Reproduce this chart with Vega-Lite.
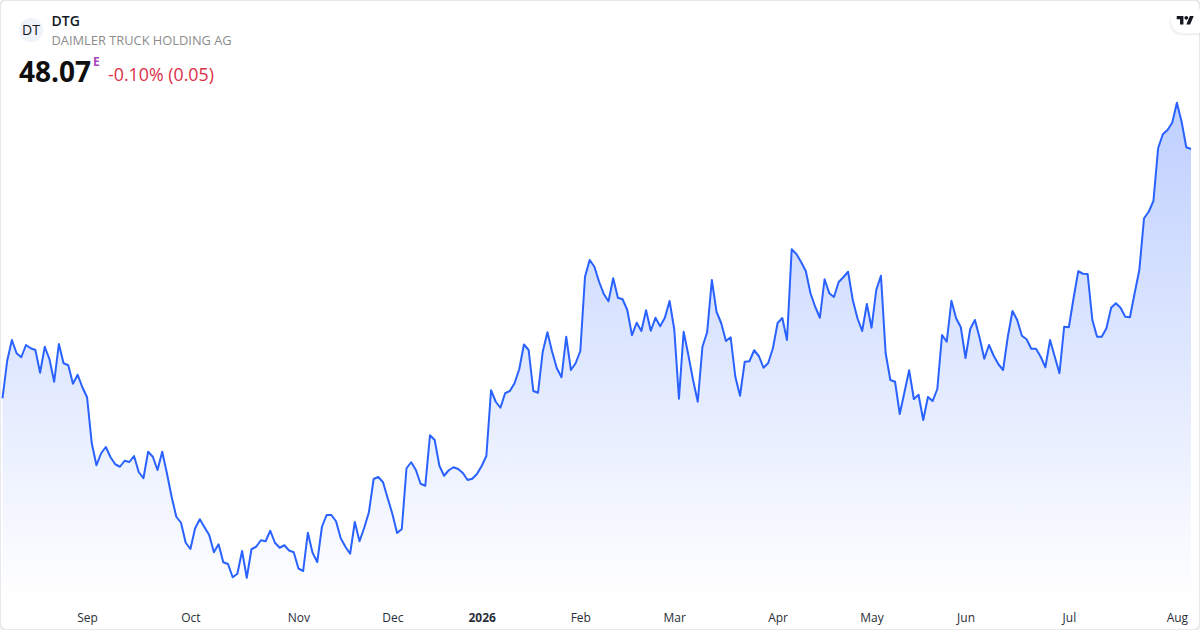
{"$schema":"https://vega.github.io/schema/vega-lite/v6.json","width":1200,"height":630,"padding":0,"autosize":"none","background":"#ffffff","view":{"stroke":"#e6e8ec","strokeWidth":2,"cornerRadius":6,"fill":"#ffffff"},"config":{"font":"Open Sans"},
"data":{"values":[{"session":0,"close":38.10},{"session":1,"close":39.60},{"session":2,"close":40.43},{"session":3,"close":39.90},{"session":4,"close":39.74},{"session":5,"close":40.23},{"session":6,"close":40.10},{"session":7,"close":40.03},{"session":8,"close":39.12},{"session":9,"close":40.16},{"session":10,"close":39.66},{"session":11,"close":38.76},{"session":12,"close":40.27},{"session":13,"close":39.50},{"session":14,"close":39.42},{"session":15,"close":38.68},{"session":16,"close":39.04},{"session":17,"close":38.54},{"session":18,"close":38.14},{"session":19,"close":36.30},{"session":20,"close":35.42},{"session":21,"close":35.90},{"session":22,"close":36.15},{"session":23,"close":35.74},{"session":24,"close":35.46},{"session":25,"close":35.36},{"session":26,"close":35.60},{"session":27,"close":35.55},{"session":28,"close":35.79},{"session":29,"close":35.15},{"session":30,"close":34.90},{"session":31,"close":35.96},{"session":32,"close":35.76},{"session":33,"close":35.23},{"session":34,"close":35.96},{"session":35,"close":35.10},{"session":36,"close":34.16},{"session":37,"close":33.36},{"session":38,"close":33.12},{"session":39,"close":32.32},{"session":40,"close":32.07},{"session":41,"close":32.90},{"session":42,"close":33.26},{"session":43,"close":32.94},{"session":44,"close":32.63},{"session":45,"close":31.94},{"session":46,"close":32.26},{"session":47,"close":31.54},{"session":48,"close":31.47},{"session":49,"close":30.94},{"session":50,"close":31.08},{"session":51,"close":31.99},{"session":52,"close":30.92},{"session":53,"close":32.06},{"session":54,"close":32.16},{"session":55,"close":32.42},{"session":56,"close":32.38},{"session":57,"close":32.80},{"session":58,"close":32.32},{"session":59,"close":32.12},{"session":60,"close":32.22},{"session":61,"close":32.01},{"session":62,"close":31.94},{"session":63,"close":31.29},{"session":64,"close":31.19},{"session":65,"close":32.72},{"session":66,"close":31.92},{"session":67,"close":31.55},{"session":68,"close":32.96},{"session":69,"close":33.43},{"session":70,"close":33.43},{"session":71,"close":33.18},{"session":72,"close":32.50},{"session":73,"close":32.16},{"session":74,"close":31.88},{"session":75,"close":33.15},{"session":76,"close":32.38},{"session":77,"close":32.92},{"session":78,"close":33.54},{"session":79,"close":34.87},{"session":80,"close":34.95},{"session":81,"close":34.74},{"session":82,"close":34.10},{"session":83,"close":33.47},{"session":84,"close":32.71},{"session":85,"close":32.87},{"session":86,"close":35.30},{"session":87,"close":35.54},{"session":88,"close":35.23},{"session":89,"close":34.68},{"session":90,"close":34.60},{"session":91,"close":36.62},{"session":92,"close":36.43},{"session":93,"close":35.40},{"session":94,"close":35.00},{"session":95,"close":35.22},{"session":96,"close":35.34},{"session":97,"close":35.27},{"session":98,"close":35.11},{"session":99,"close":34.83},{"session":100,"close":34.88},{"session":101,"close":35.07},{"session":102,"close":35.39},{"session":103,"close":35.79},{"session":104,"close":38.42},{"session":105,"close":37.96},{"session":106,"close":37.72},{"session":107,"close":38.30},{"session":108,"close":38.39},{"session":109,"close":38.70},{"session":110,"close":39.26},{"session":111,"close":40.25},{"session":112,"close":40.03},{"session":113,"close":38.39},{"session":114,"close":38.32},{"session":115,"close":39.96},{"session":116,"close":40.74},{"session":117,"close":39.96},{"session":118,"close":39.30},{"session":119,"close":38.94},{"session":120,"close":40.56},{"session":121,"close":39.23},{"session":122,"close":39.50},{"session":123,"close":39.99},{"session":124,"close":42.96},{"session":125,"close":43.63},{"session":126,"close":43.36},{"session":127,"close":42.76},{"session":128,"close":42.27},{"session":129,"close":41.98},{"session":130,"close":42.90},{"session":131,"close":42.12},{"session":132,"close":42.06},{"session":133,"close":41.63},{"session":134,"close":40.62},{"session":135,"close":41.12},{"session":136,"close":40.79},{"session":137,"close":41.62},{"session":138,"close":40.80},{"session":139,"close":41.32},{"session":140,"close":40.98},{"session":141,"close":41.32},{"session":142,"close":41.99},{"session":143,"close":40.86},{"session":144,"close":38.08},{"session":145,"close":40.76},{"session":146,"close":39.83},{"session":147,"close":38.83},{"session":148,"close":37.96},{"session":149,"close":40.16},{"session":150,"close":40.74},{"session":151,"close":42.83},{"session":152,"close":41.56},{"session":153,"close":41.10},{"session":154,"close":40.39},{"session":155,"close":40.54},{"session":156,"close":38.96},{"session":157,"close":38.20},{"session":158,"close":39.56},{"session":159,"close":39.58},{"session":160,"close":40.02},{"session":161,"close":39.79},{"session":162,"close":39.32},{"session":163,"close":39.51},{"session":164,"close":40.10},{"session":165,"close":41.11},{"session":166,"close":41.31},{"session":167,"close":40.43},{"session":168,"close":44.06},{"session":169,"close":43.87},{"session":170,"close":43.55},{"session":171,"close":43.19},{"session":172,"close":42.30},{"session":173,"close":41.76},{"session":174,"close":41.32},{"session":175,"close":42.86},{"session":176,"close":42.30},{"session":177,"close":42.15},{"session":178,"close":42.75},{"session":179,"close":42.94},{"session":180,"close":43.16},{"session":181,"close":42.03},{"session":182,"close":41.30},{"session":183,"close":40.79},{"session":184,"close":41.87},{"session":185,"close":40.92},{"session":186,"close":42.43},{"session":187,"close":43.00},{"session":188,"close":39.90},{"session":189,"close":38.83},{"session":190,"close":38.76},{"session":191,"close":37.47},{"session":192,"close":38.34},{"session":193,"close":39.22},{"session":194,"close":38.07},{"session":195,"close":38.24},{"session":196,"close":37.23},{"session":197,"close":38.15},{"session":198,"close":37.99},{"session":199,"close":38.47},{"session":200,"close":40.63},{"session":201,"close":40.36},{"session":202,"close":42.00},{"session":203,"close":41.30},{"session":204,"close":40.94},{"session":205,"close":39.71},{"session":206,"close":40.87},{"session":207,"close":41.23},{"session":208,"close":40.52},{"session":209,"close":39.68},{"session":210,"close":40.23},{"session":211,"close":39.80},{"session":212,"close":39.46},{"session":213,"close":39.23},{"session":214,"close":40.56},{"session":215,"close":41.59},{"session":216,"close":41.23},{"session":217,"close":40.60},{"session":218,"close":40.46},{"session":219,"close":40.08},{"session":220,"close":40.08},{"session":221,"close":39.76},{"session":222,"close":39.34},{"session":223,"close":40.43},{"session":224,"close":39.76},{"session":225,"close":39.10},{"session":226,"close":40.96},{"session":227,"close":40.94},{"session":228,"close":42.10},{"session":229,"close":43.18},{"session":230,"close":43.08},{"session":231,"close":43.07},{"session":232,"close":41.23},{"session":233,"close":40.56},{"session":234,"close":40.56},{"session":235,"close":40.90},{"session":236,"close":41.72},{"session":237,"close":41.90},{"session":238,"close":41.72},{"session":239,"close":41.36},{"session":240,"close":41.34},{"session":241,"close":42.30},{"session":242,"close":43.23},{"session":243,"close":45.30},{"session":244,"close":45.56},{"session":245,"close":45.99},{"session":246,"close":48.10},{"session":247,"close":48.66},{"session":248,"close":48.83},{"session":249,"close":49.12},{"session":250,"close":49.92},{"session":251,"close":49.16},{"session":252,"close":48.14},{"session":253,"close":48.07}]},
"layer":[
{"mark":{"type":"area","line":false,"color":{"gradient":"linear","x1":0,"y1":0,"x2":0,"y2":1,"stops":[{"offset":0,"color":"rgba(41,98,255,0.3)"},{"offset":1,"color":"rgba(41,98,255,0)"}]}},
"encoding":{"x":{"field":"session","type":"quantitative","title":null,"scale":{"domain":[0,253],"range":[2.5,1191],"nice":false,"zero":false},"axis":{"values":[18,40,63,83,102,123,143,165,185,205,227,250],"labelExpr":"datum.value==18?'Sep':datum.value==40?'Oct':datum.value==63?'Nov':datum.value==83?'Dec':datum.value==102?'2026':datum.value==123?'Feb':datum.value==143?'Mar':datum.value==165?'Apr':datum.value==185?'May':datum.value==205?'Jun':datum.value==227?'Jul':'Aug'","title":null,"domain":false,"ticks":false,"grid":false,"offset":-13,"labelPadding":0,"labelBaseline":"middle","labelFontSize":12,"labelColor":"#2a2e39","labelOverlap":false,"labelFlush":false,"labelFontWeight":{"expr":"datum.value==102?'bold':'normal'"}}},"y":{"field":"close","type":"quantitative","scale":{"domain":[28.83,54.03],"range":[630,0],"nice":false,"zero":false},"axis":null},"y2":{"datum":29.95}}},
{"mark":{"type":"line","color":"#2962ff","strokeWidth":2,"strokeJoin":"round"},
"encoding":{"x":{"field":"session","type":"quantitative","title":null},"y":{"field":"close","type":"quantitative","axis":null}}},
{"data":{"values":[{"mark":"logo"}]},"mark":{"type":"point","filled":true,"color":"#f0f3fa","size":576,"shape":"circle","opacity":1},"encoding":{"x":{"datum":6.07,"title":null},"y":{"datum":52.83,"axis":null}}},
{"data":{"values":[{"label":"DT"}]},"mark":{"type":"text","align":"center","baseline":"middle","fontSize":14,"color":"#131722"},"encoding":{"x":{"datum":6.07,"title":null},"y":{"datum":52.80,"axis":null},"text":{"field":"label"}}},
{"data":{"values":[{"label":"DTG"}]},"mark":{"type":"text","align":"left","baseline":"alphabetic","fontSize":14,"fontWeight":600,"color":"#131722"},"encoding":{"x":{"datum":10.43,"title":null},"y":{"datum":52.99,"axis":null},"text":{"field":"label"}}},
{"data":{"values":[{"label":"DAIMLER TRUCK HOLDING AG"}]},"mark":{"type":"text","align":"left","baseline":"alphabetic","fontSize":12.85,"color":"#8c8c8c"},"encoding":{"x":{"datum":10.43,"title":null},"y":{"datum":52.25,"axis":null},"text":{"field":"label"}}},
{"data":{"values":[{"label":"48.07"}]},"mark":{"type":"text","align":"left","baseline":"alphabetic","fontSize":28,"fontWeight":700,"color":"#0f0f0f"},"encoding":{"x":{"datum":3.51,"title":null},"y":{"datum":50.77,"axis":null},"text":{"field":"label"}}},
{"data":{"values":[{"label":"E"}]},"mark":{"type":"text","align":"left","baseline":"alphabetic","fontSize":12,"fontWeight":700,"color":"#ab47bc"},"encoding":{"x":{"datum":19.26,"title":null},"y":{"datum":51.39,"axis":null},"text":{"field":"label"}}},
{"data":{"values":[{"label":"-0.10% (0.05)"}]},"mark":{"type":"text","align":"left","baseline":"alphabetic","fontSize":17.8,"color":"#dc2f47"},"encoding":{"x":{"datum":22.46,"title":null},"y":{"datum":50.79,"axis":null},"text":{"field":"label"}}},
{"data":{"values":[{"mark":"badge-shadow"}]},"mark":{"type":"point","filled":true,"color":"#000000","opacity":0.05,"size":1225,"shape":"M1 -.72H-.28A.72 .72 0 0 0 -1 0A.72 .72 0 0 0 -.28 .72H1Z"},"encoding":{"x":{"datum":252.13,"title":null},"y":{"datum":53.11,"axis":null}}},
{"data":{"values":[{"mark":"badge"}]},"mark":{"type":"point","filled":true,"color":"#ffffff","opacity":1,"size":1024,"shape":"M1 -.75H-.25A.75 .75 0 0 0 -1 0A.75 .75 0 0 0 -.25 .75H1Z"},"encoding":{"x":{"datum":252.13,"title":null},"y":{"datum":53.19,"axis":null}}},
{"data":{"values":[{"mark":"tv"}]},"mark":{"type":"point","filled":true,"color":"#131722","opacity":1,"size":289,"shape":"M-.211 .507H-.606V-.113H-1V-.507H-.211ZM.577 .507H.127L.549 -.507H1ZM-.098 -.282a.225 .225 0 1 0 .45 0a.225 .225 0 1 0 -.45 0Z"},"encoding":{"x":{"datum":251.77,"title":null},"y":{"datum":53.22,"axis":null}}}
]}
